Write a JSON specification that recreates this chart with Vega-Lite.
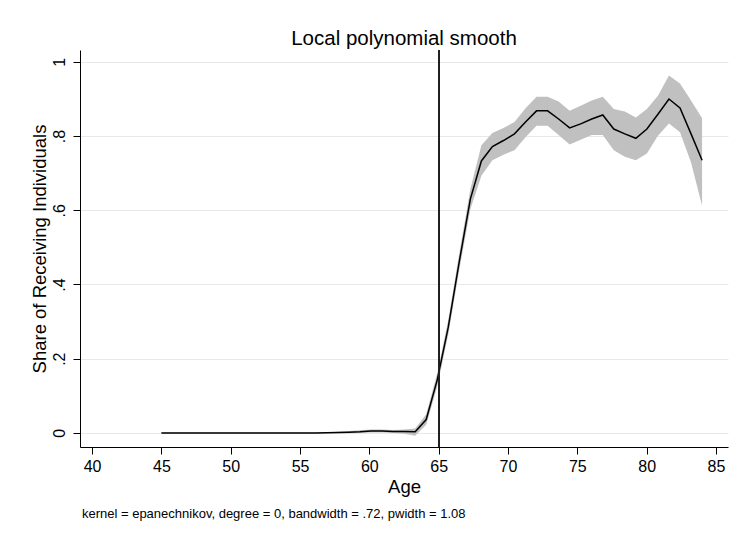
{
  "$schema": "https://vega.github.io/schema/vega-lite/v6.json",
  "width": 648,
  "height": 397,
  "autosize": "none",
  "padding": {"left": 80, "top": 50, "right": 8, "bottom": 93},
  "background": "white",
  "title": {"text": "Local polynomial smooth", "font": "Liberation Sans", "fontSize": 20.5, "fontWeight": "normal", "color": "black", "anchor": "middle", "offset": 0},
  "data": {"values": [
    {"age": 45, "fit": 0, "lo": -0.001, "hi": 0.001},
    {"age": 45.796, "fit": 0, "lo": -0.001, "hi": 0.001},
    {"age": 46.592, "fit": 0, "lo": -0.001, "hi": 0.001},
    {"age": 47.388, "fit": 0, "lo": -0.001, "hi": 0.001},
    {"age": 48.184, "fit": 0, "lo": -0.001, "hi": 0.001},
    {"age": 48.98, "fit": 0, "lo": -0.001, "hi": 0.001},
    {"age": 49.776, "fit": 0, "lo": -0.001, "hi": 0.001},
    {"age": 50.571, "fit": 0, "lo": -0.001, "hi": 0.001},
    {"age": 51.367, "fit": 0, "lo": -0.001, "hi": 0.001},
    {"age": 52.163, "fit": 0, "lo": -0.001, "hi": 0.001},
    {"age": 52.959, "fit": 0, "lo": -0.001, "hi": 0.001},
    {"age": 53.755, "fit": 0, "lo": -0.001, "hi": 0.001},
    {"age": 54.551, "fit": 0, "lo": -0.001, "hi": 0.001},
    {"age": 55.347, "fit": 0, "lo": -0.001, "hi": 0.001},
    {"age": 56.143, "fit": 0, "lo": -0.001, "hi": 0.001},
    {"age": 56.939, "fit": 0.0005, "lo": -0.001, "hi": 0.002},
    {"age": 57.735, "fit": 0.001, "lo": -0.001, "hi": 0.003},
    {"age": 58.531, "fit": 0.002, "lo": -0.001, "hi": 0.005},
    {"age": 59.327, "fit": 0.003, "lo": 0.0, "hi": 0.007},
    {"age": 60.122, "fit": 0.005, "lo": 0.001, "hi": 0.009},
    {"age": 60.918, "fit": 0.005, "lo": 0.001, "hi": 0.009},
    {"age": 61.714, "fit": 0.004, "lo": 0.0, "hi": 0.008},
    {"age": 62.51, "fit": 0.004, "lo": -0.002, "hi": 0.009},
    {"age": 63.306, "fit": 0.003, "lo": -0.008, "hi": 0.012},
    {"age": 64.102, "fit": 0.036, "lo": 0.022, "hi": 0.05},
    {"age": 64.898, "fit": 0.143, "lo": 0.125, "hi": 0.16},
    {"age": 65.694, "fit": 0.285, "lo": 0.265, "hi": 0.305},
    {"age": 66.49, "fit": 0.462, "lo": 0.44, "hi": 0.485},
    {"age": 67.286, "fit": 0.63, "lo": 0.603, "hi": 0.657},
    {"age": 68.082, "fit": 0.733, "lo": 0.693, "hi": 0.775},
    {"age": 68.878, "fit": 0.772, "lo": 0.735, "hi": 0.808},
    {"age": 69.673, "fit": 0.788, "lo": 0.75, "hi": 0.822},
    {"age": 70.469, "fit": 0.806, "lo": 0.762, "hi": 0.838},
    {"age": 71.265, "fit": 0.838, "lo": 0.797, "hi": 0.875},
    {"age": 72.061, "fit": 0.868, "lo": 0.828, "hi": 0.906},
    {"age": 72.857, "fit": 0.868, "lo": 0.828, "hi": 0.906},
    {"age": 73.653, "fit": 0.846, "lo": 0.803, "hi": 0.893},
    {"age": 74.449, "fit": 0.822, "lo": 0.777, "hi": 0.868},
    {"age": 75.245, "fit": 0.833, "lo": 0.79, "hi": 0.882},
    {"age": 76.041, "fit": 0.846, "lo": 0.803, "hi": 0.896},
    {"age": 76.837, "fit": 0.857, "lo": 0.803, "hi": 0.906},
    {"age": 77.633, "fit": 0.819, "lo": 0.762, "hi": 0.873},
    {"age": 78.429, "fit": 0.806, "lo": 0.744, "hi": 0.866},
    {"age": 79.224, "fit": 0.794, "lo": 0.735, "hi": 0.85},
    {"age": 80.02, "fit": 0.819, "lo": 0.753, "hi": 0.873},
    {"age": 80.816, "fit": 0.859, "lo": 0.801, "hi": 0.909},
    {"age": 81.612, "fit": 0.9, "lo": 0.834, "hi": 0.963},
    {"age": 82.408, "fit": 0.876, "lo": 0.81, "hi": 0.942},
    {"age": 83.204, "fit": 0.806, "lo": 0.729, "hi": 0.896},
    {"age": 84, "fit": 0.735, "lo": 0.612, "hi": 0.848}
  ]},
  "layer": [
    {
      "mark": {"type": "area", "color": "#c0c0c0", "opacity": 1},
      "encoding": {
        "x": {"field": "age", "type": "quantitative", "title": "Age",
              "scale": {"domain": [39.13, 85.87], "nice": false, "zero": false},
              "axis": {"values": [40, 45, 50, 55, 60, 65, 70, 75, 80, 85], "grid": false, "labelPadding": 4, "titlePadding": 3, "labelFlush": false}},
        "y": {"field": "lo", "type": "quantitative", "title": "Share of Receiving Individuals",
              "scale": {"domain": [-0.038, 1.032], "nice": false, "zero": false},
              "axis": {"values": [0, 0.2, 0.4, 0.6, 0.8, 1], "grid": true, "gridColor": "#e8e8e8",
                       "labelExpr": "datum.value == 0 ? '0' : datum.value == 1 ? '1' : replace(format(datum.value, '.1f'), '0.', '.')",
                       "labelAngle": -90, "labelAlign": "center", "labelBaseline": "bottom", "labelPadding": 6, "titlePadding": 2, "labelFlush": false}},
        "y2": {"field": "hi"}
      }
    },
    {
      "mark": {"type": "line", "color": "black", "strokeWidth": 1.5},
      "encoding": {
        "x": {"field": "age", "type": "quantitative", "title": "Age"},
        "y": {"field": "fit", "type": "quantitative", "title": "Share of Receiving Individuals"}
      }
    },
    {
      "mark": {"type": "rule", "color": "#222222", "strokeWidth": 1},
      "encoding": {
        "x": {"datum": 65, "type": "quantitative", "title": "Age"}
      }
    },
    {
      "data": {"values": [{"note": "kernel = epanechnikov, degree = 0, bandwidth = .72, pwidth = 1.08"}]},
      "mark": {"type": "text", "align": "left", "baseline": "middle", "font": "Liberation Sans", "fontSize": 13, "color": "black", "clip": false},
      "encoding": {
        "x": {"datum": 39.27, "type": "quantitative", "title": "Age"},
        "y": {"datum": -0.2186, "type": "quantitative", "title": "Share of Receiving Individuals"},
        "text": {"field": "note"}
      }
    }
  ],
  "config": {
    "view": {"stroke": null},
    "axis": {
      "labelFont": "Liberation Sans",
      "titleFont": "Liberation Sans",
      "labelColor": "black",
      "titleColor": "black",
      "titleFontWeight": "normal",
      "domainColor": "black",
      "domainWidth": 1,
      "tickColor": "black",
      "tickSize": 7,
      "tickWidth": 1,
      "labelFontSize": 16,
      "titleFontSize": 18.5
    }
  }
}
